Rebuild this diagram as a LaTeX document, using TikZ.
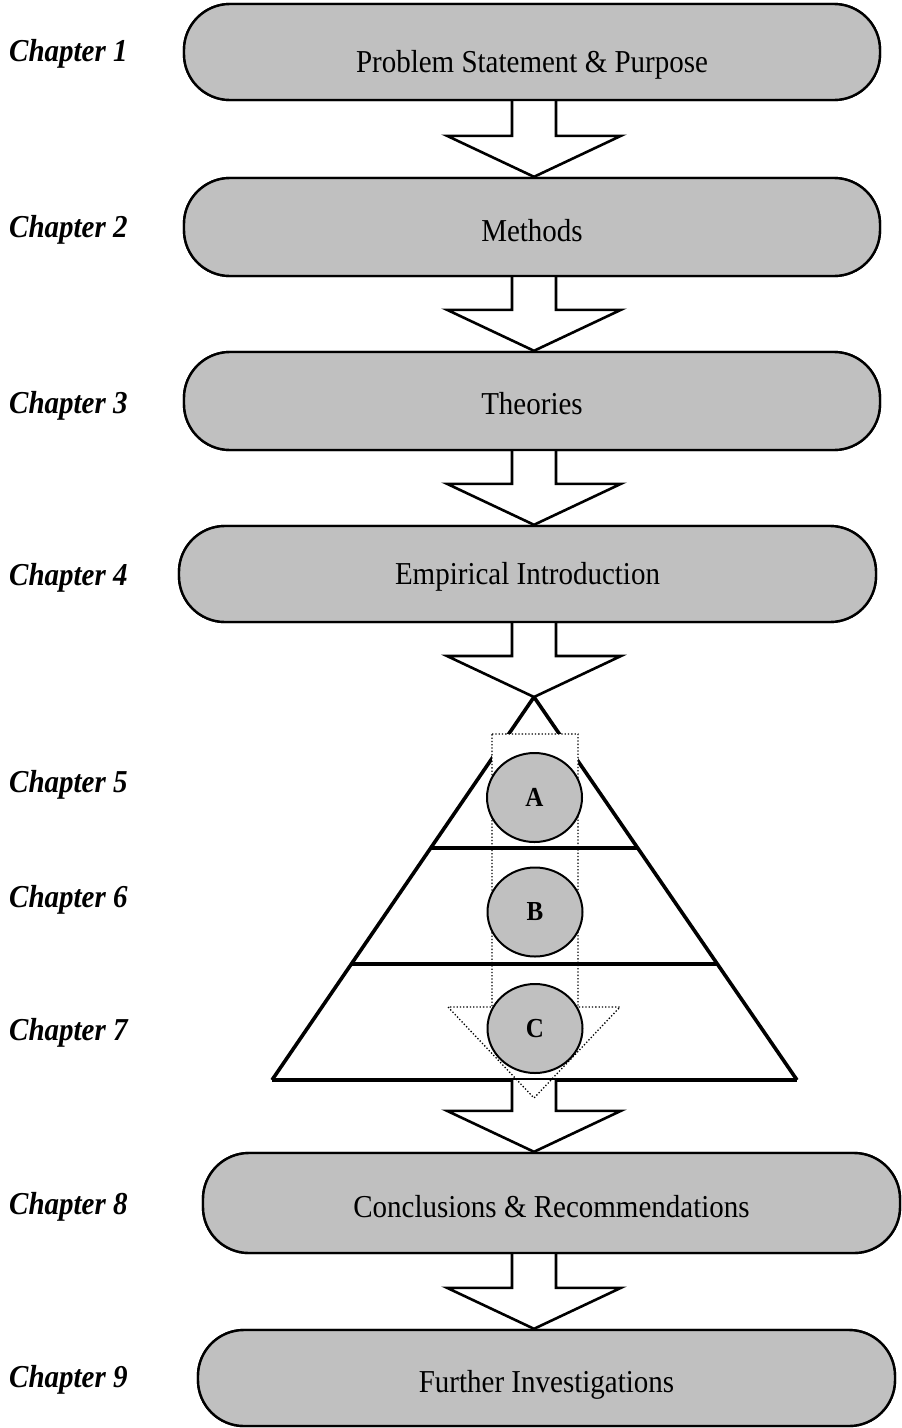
\documentclass[tikz,border=0pt]{standalone}
\usepackage{fontspec}
\setmainfont{Liberation Serif}
\usepackage{graphicx}
\usetikzlibrary{calc,shapes.geometric}

\definecolor{boxgray}{HTML}{C0C0C0}

% slightly tall lettering
\newcommand\tall[1]{\scalebox{1}[1.1]{#1}}

% hollow block arrow: #1 = start of the shaft, #2 = tip
\newcommand\blockarrow[2]{%
  \path[blockarr] let \p1=(#1), \p2=(#2) in
    (\x2-22pt,\y1) -- (\x2-22pt,\y2+41pt) -- (\x2-87pt,\y2+41pt) --
    (\x2,\y2) -- (\x2+87pt,\y2+41pt) -- (\x2+22pt,\y2+41pt) -- (\x2+22pt,\y1);%
}

\begin{document}
\begin{tikzpicture}[x=1pt,y=-1pt,
  chapbox/.style={draw, fill=boxgray, line width=2.4pt, rounded corners=46pt,
    minimum width=696pt, minimum height=96pt, inner sep=0pt},
  boxtext/.style={anchor=base, inner sep=0pt, font=\fontsize{29}{34}\selectfont},
  chaplabel/.style={anchor=base west, inner sep=0pt,
    font=\fontsize{29}{34}\selectfont\bfseries\itshape},
  blockarr/.style={draw, fill=white, line width=2.6pt},
  tier/.style={line width=3.6pt},
  stage/.style={ellipse, draw, fill=boxgray, line width=2pt, minimum width=95pt,
    minimum height=89pt, inner sep=0pt, font=\fontsize{25}{30}\selectfont\bfseries},
  flowfill/.style={fill=white},
  flowline/.style={draw, dotted, line width=1.3pt}
]
\useasboundingbox (0,0) rectangle (902,1428);

% column of the arrows
\coordinate (col) at (534,0);

% ---------- pyramid ----------
\coordinate (apex) at (534,697);
\coordinate (bl) at (272,1080);
\coordinate (br) at (797,1080);
\coordinate (l1) at ($(apex)!0.394!(bl)$);
\coordinate (r1) at ($(apex)!0.394!(br)$);
\coordinate (l2) at ($(apex)!0.697!(bl)$);
\coordinate (r2) at ($(apex)!0.697!(br)$);

\draw[tier] (bl) -- (apex) -- (br);

% dotted flow arrow through the pyramid (background)
\path[flowfill] (492,734) -- (578,734) -- (578,1007) -- (620,1007) -- (534,1098)
  -- (448,1007) -- (492,1007) -- cycle;

\draw[tier] (l1) -- (r1);
\draw[tier] (l2) -- (r2);
\draw[tier] (bl) -- (br);

% ---------- chapter boxes ----------
\coordinate (b1pos) at (532,52);
\coordinate (b2pos) at (532,227);
\coordinate (b3pos) at (532,401);
\coordinate (b4pos) at (527.5,574);
\coordinate (b8pos) at (551.5,1203);
\coordinate (b9pos) at (546.5,1378);

\path (b1pos) node[chapbox] (b1) {};
\path (b2pos) node[chapbox, minimum height=98pt] (b2) {};
\path (b3pos) node[chapbox, minimum height=98pt] (b3) {};
\path (b4pos) node[chapbox, minimum width=697pt] (b4) {};
\path (b8pos) node[chapbox, minimum width=697pt, minimum height=100pt] (b8) {};
\path (b9pos) node[chapbox, minimum width=697pt] (b9) {};

% ---------- block arrows ----------
\blockarrow{b1.south -| col}{b2.north -| col}
\blockarrow{b2.south -| col}{b3.north -| col}
\blockarrow{b3.south -| col}{b4.north -| col}
\blockarrow{b4.south -| col}{apex}
\blockarrow{bl -| col}{b8.north -| col}
\blockarrow{b8.south -| col}{b9.north -| col}

% redraw the box outlines over the arrow tips
\path (b1pos) node[chapbox] {};
\path (b2pos) node[chapbox, minimum height=98pt] {};
\path (b3pos) node[chapbox, minimum height=98pt] {};
\path (b4pos) node[chapbox, minimum width=697pt] {};
\path (b8pos) node[chapbox, minimum width=697pt, minimum height=100pt] {};
\path (b9pos) node[chapbox, minimum width=697pt] {};

% dotted flow arrow outline
\path[flowline] (492,734) -- (578,734) -- (578,1007) -- (620,1007) -- (534,1098)
  -- (448,1007) -- (492,1007) -- cycle;

% ---------- box texts ----------
\node[boxtext] (t1) at (532,72) {\tall{Problem Statement \& Purpose}};
\node[boxtext] (t2) at (532,241) {\tall{Methods}};
\node[boxtext] (t3) at (532,414) {\tall{Theories}};
\node[boxtext] (t4) at (527.5,584) {\tall{Empirical Introduction}};
\node[boxtext] (t8) at (551.5,1217) {\tall{Conclusions \& Recommendations}};
\node[boxtext] (t9) at (546.5,1392) {\tall{Further Investigations}};

% ---------- stages inside the pyramid ----------
\node[stage] (sa) at (534.5,797.5) {\tall{A}};
\node[stage] (sb) at (535,912) {\tall{B}};
\node[stage] (sc) at (535,1028.5) {\tall{C}};

% ---------- chapter labels ----------
\node[chaplabel] (c1) at (9,61) {\tall{Chapter 1}};
\node[chaplabel] (c2) at (9,237) {\tall{Chapter 2}};
\node[chaplabel] (c3) at (9,413) {\tall{Chapter 3}};
\node[chaplabel] (c4) at (9,585) {\tall{Chapter 4}};
\node[chaplabel] (c5) at (9,792) {\tall{Chapter 5}};
\node[chaplabel] (c6) at (9,907) {\tall{Chapter 6}};
\node[chaplabel] (c7) at (9,1040) {\tall{Chapter 7}};
\node[chaplabel] (c8) at (9,1214) {\tall{Chapter 8}};
\node[chaplabel] (c9) at (9,1387) {\tall{Chapter 9}};
\end{tikzpicture}
\end{document}
